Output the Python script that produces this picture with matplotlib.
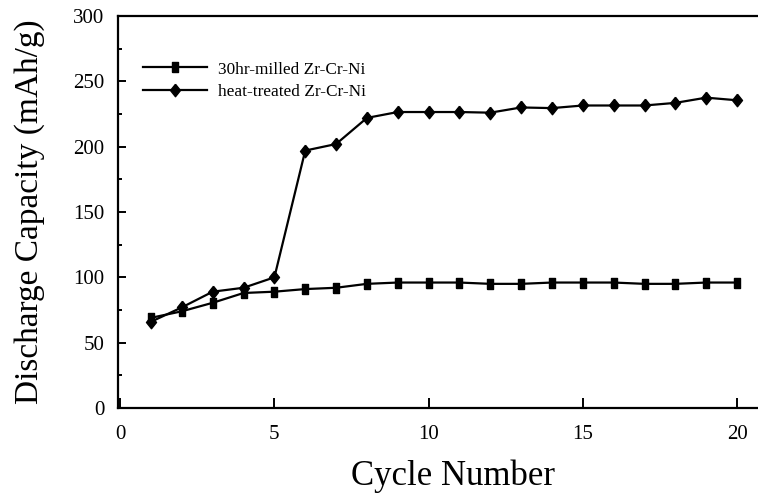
import numpy as np
import matplotlib
matplotlib.use("Agg")
import matplotlib.pyplot as plt
from matplotlib.ticker import MultipleLocator

plt.rcParams['font.family'] = ['Liberation Serif', 'DejaVu Serif']

# data
cycles = list(range(1, 21))
milled = [69, 74, 80.5, 88, 89, 91, 92, 95, 96, 96,
          96, 95, 95, 96, 96, 96, 95, 95, 96, 96]
heat_treated = [66, 77, 89, 92, 100, 197, 202, 222, 226.5, 226.5,
                226.5, 226, 230, 229.5, 231.5, 231.5, 231.5, 233.5, 237.5, 235.5]
labels = ["30hr-milled Zr-Cr-Ni", "heat-treated Zr-Cr-Ni"]

# slightly tall markers, like the scanned figure
tall_square = [(-0.75, -1), (0.75, -1), (0.75, 1), (-0.75, 1), (-0.75, -1)]
tall_diamond = [(0, 1), (0.8, 0), (0, -1), (-0.8, 0), (0, 1)]

fig = plt.figure(figsize=(7.58, 4.95), dpi=100)
ax = fig.add_axes([0.1557, 0.1758, 0.8443, 0.7919])

ax.plot(cycles, milled, color="black", lw=1.6, marker=tall_square, ms=6.5, label=labels[0])
ax.plot(cycles, heat_treated, color="black", lw=1.6, marker=tall_diamond, ms=9, label=labels[1])

ax.set_xlim(-0.07, 20.68)
ax.set_ylim(0, 300)
ax.xaxis.set_major_locator(MultipleLocator(5))
ax.yaxis.set_major_locator(MultipleLocator(50))
ax.yaxis.set_minor_locator(MultipleLocator(25))
ax.tick_params(which="both", direction="in", labelsize=15, width=1.4)
ax.tick_params(which="major", length=6)
ax.tick_params(which="minor", length=3)
ax.tick_params(axis="x", which="major", length=7, pad=12)
ax.tick_params(axis="y", pad=10)

ax.spines["right"].set_visible(False)
for s in ["left", "bottom", "top"]:
    ax.spines[s].set_linewidth(1.6)

ax.set_xlabel("Cycle Number", fontsize=25)
ax.xaxis.set_label_coords(0.523, -0.132, transform=ax.transAxes)
ax.xaxis.label.set_va("top")
ax.set_ylabel("Discharge Capacity (mAh/g)", fontsize=24, labelpad=20)

ax.legend(loc="upper left", bbox_to_anchor=(0.039, 0.884), frameon=False,
          borderaxespad=0, borderpad=0,
          fontsize=12.4, handlelength=3.7, labelspacing=0.4, handletextpad=0.64)

fig.savefig("out.png", dpi=100)
